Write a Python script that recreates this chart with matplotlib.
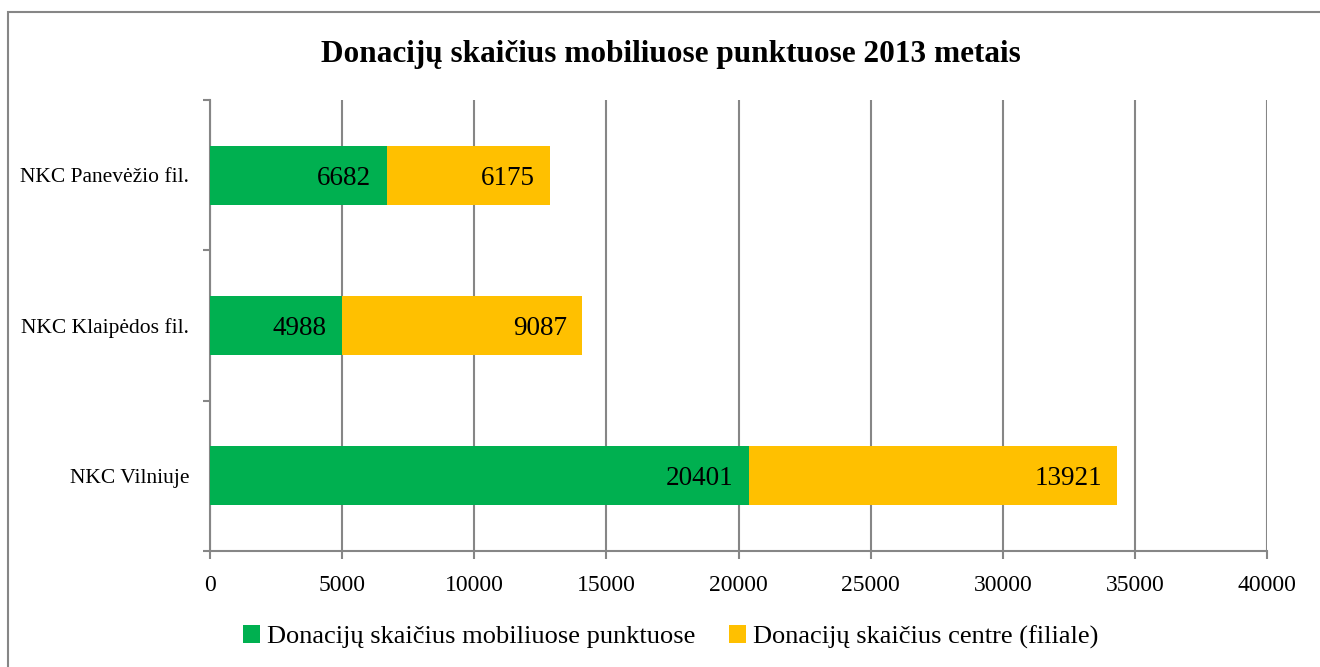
import matplotlib
matplotlib.use('Agg')
import matplotlib.pyplot as plt
from matplotlib.patches import Rectangle

categories = ['NKC Vilniuje', 'NKC Klaipėdos fil.', 'NKC Panevėžio fil.']
mobile = [20401, 4988, 6682]
centre = [13921, 9087, 6175]
series_names = ['Donacijų skaičius mobiliuose punktuose', 'Donacijų skaičius centre (filiale)']
title = 'Donacijų skaičius mobiliuose punktuose 2013 metais'

plt.rcParams['font.family'] = ['Liberation Serif', 'DejaVu Serif']

fig = plt.figure(figsize=(13.2, 6.67), dpi=100)
ax = fig.add_axes([0.159, 0.174, 0.801, 0.676])

# outer chart border
fig.patches.append(Rectangle((8/1320, -0.1), 1.2, 1 - 12/667 + 0.1, transform=fig.transFigure,
                             fill=False, edgecolor='#868686', linewidth=1.5))

y = range(len(categories))
h = 0.39
b1 = ax.barh(y, mobile, height=h, color='#00B050', label=series_names[0], zorder=3)
b2 = ax.barh(y, centre, left=mobile, height=h, color='#FFC000', label=series_names[1], zorder=3)
ax.bar_label(b1, labels=[str(v) for v in mobile], padding=-11, fontsize=19.5, color='black')
ax.bar_label(b2, labels=[str(v) for v in centre], padding=-11, fontsize=19.5, color='black')
# put the value labels inside the bar end
for t in ax.texts:
    t.set_ha('right')
    t.set_va('center_baseline')

ax.set_xlim(0, 40000)
ax.set_ylim(-0.5, 2.5)
ax.set_xticks(range(0, 40001, 5000))
ax.set_yticks(y)
ax.set_yticklabels(categories, fontsize=15.5)
ax.set_yticks([-0.5, 0.5, 1.5, 2.5], minor=True)
ax.tick_params(axis='y', which='major', length=0, pad=15)
ax.tick_params(axis='y', which='minor', length=5, color='#868686', width=1.5)
ax.tick_params(axis='x', labelsize=17, length=6, color='#868686', width=1.5, pad=11)
ax.grid(axis='x', color='#868686', linewidth=1.5, zorder=0)
for s in ['top', 'right']:
    ax.spines[s].set_visible(False)
ax.spines['left'].set_color('#868686')
ax.spines['left'].set_linewidth(1.5)
ax.spines['bottom'].set_color('#868686')
ax.spines['bottom'].set_linewidth(1.5)

fig.text(0.508, 0.918, title, ha='center', va='center', fontsize=22.5, fontweight='bold')

fig.legend(handles=[b1, b2], labels=series_names, loc='center', bbox_to_anchor=(0.508, 0.045),
           ncol=2, frameon=False, fontsize=19, handlelength=0.65, handleheight=0.65,
           handletextpad=0.25, columnspacing=1.3)

fig.savefig('out.png', dpi=100)
